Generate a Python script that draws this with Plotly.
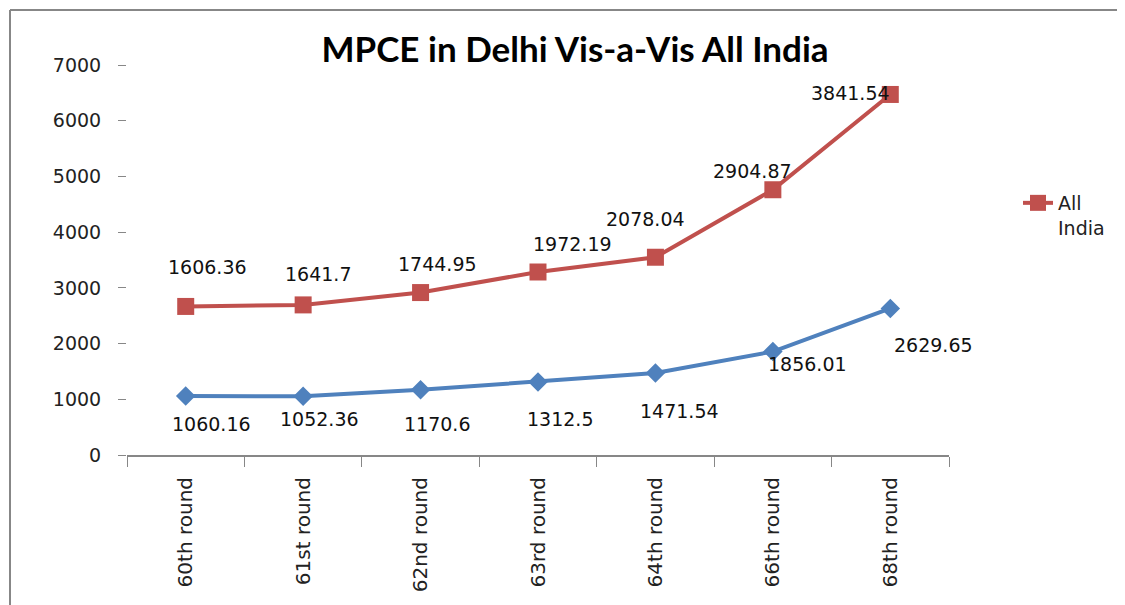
import plotly.graph_objects as go

# ---- data ----
rounds = ["60th round", "61st round", "62nd round", "63rd round",
          "64th round", "66th round", "68th round"]
delhi = [1060.16, 1052.36, 1170.6, 1312.5, 1471.54, 1856.01, 2629.65]
all_india = [1606.36, 1641.7, 1744.95, 1972.19, 2078.04, 2904.87, 3841.54]
y_ticks = [0, 1000, 2000, 3000, 4000, 5000, 6000, 7000]

# ---- label offsets (pixels), style only ----
delhi_off = [(26, -28), (16, -23), (16, -34), (22, -37), (24, -38), (35, -12), (43, -37)]
india_off = [(22, 39), (15, 31), (17, 29), (34, 28), (-10, 38), (-20, 19), (-40, 1)]

RED = "#C0504D"
BLUE = "#4F81BD"
FONT = "DejaVu Sans"

W, H = 1125, 605
OFF = 8  # page body margin
# plot area in page pixels
PL, PR, PT, PB = 127, 949, 65, 455
L, T = PL - OFF, PT - OFF
R = W - (PR - OFF)
B = H - (PB - OFF)

fig = go.Figure()
fig.add_trace(go.Scatter(
    x=rounds, y=delhi, name="Delhi", stackgroup="s", fill="none",
    mode="lines+markers", showlegend=False,
    line=dict(color=BLUE, width=4),
    marker=dict(symbol="diamond", size=15, color=BLUE),
))
fig.add_trace(go.Scatter(
    x=rounds, y=all_india, name="All<br>India", stackgroup="s", fill="none",
    mode="lines+markers",
    line=dict(color=RED, width=4),
    marker=dict(symbol="square", size=17, color=RED),
))

ann = []
for i, c in enumerate(rounds):
    dx, dy = delhi_off[i]
    ann.append(dict(x=c, y=delhi[i], xref="x", yref="y", text=f"{delhi[i]:g}",
                    showarrow=False, xshift=dx, yshift=dy,
                    font=dict(family=FONT, size=19, color="#111")))
    dx, dy = india_off[i]
    ann.append(dict(x=c, y=delhi[i] + all_india[i], xref="x", yref="y",
                    text=f"{all_india[i]:g}", showarrow=False, xshift=dx, yshift=dy,
                    font=dict(family=FONT, size=19, color="#111")))

pw, ph = PR - PL, PB - PT
def px(x):  # page pixel -> paper
    return (x - PL) / pw
def py(y):
    return (PB - y) / ph

shapes = [
    dict(type="line", xref="paper", yref="paper", x0=px(10), x1=px(10), y0=py(H + 20), y1=py(10),
         line=dict(color="#878787", width=2)),
    dict(type="line", xref="paper", yref="paper", x0=px(10), x1=px(W + 20), y0=py(10), y1=py(10),
         line=dict(color="#878787", width=2)),
]

fig.update_layout(
    width=W, height=H,
    margin=dict(l=L, r=R, t=T, b=B),
    paper_bgcolor="white", plot_bgcolor="white",
    title=dict(text="<b>MPCE in Delhi Vis-a-Vis All India</b>",
               xref="container", x=(575 - OFF) / W, xanchor="center",
               y=1 - (50 - OFF) / H, yanchor="middle",
               font=dict(family="Lato", size=35, color="black")),
    xaxis=dict(type="category", categoryorder="array", categoryarray=rounds,
               showline=True, linecolor="#878787", linewidth=2,
               ticks="outside", tickson="boundaries", ticklen=10, tickcolor="#878787",
               tickangle=-90, showgrid=False, zeroline=False, ticklabelstandoff=12,
               tickfont=dict(family=FONT, size=20, color="#222"),
               range=[-0.5, 6.5]),
    yaxis=dict(range=[0, 7000], tickvals=y_ticks, showgrid=False, zeroline=False,
               showline=False, ticks="outside", ticklen=8, tickcolor="#878787",
               ticklabelstandoff=13,
               tickfont=dict(family=FONT, size=19, color="#222")),
    legend=dict(x=px(1018), y=py(184), xanchor="left", yanchor="top",
                valign="top", font=dict(family=FONT, size=19, color="#222"),
                bgcolor="rgba(0,0,0,0)", itemwidth=30),
    annotations=ann,
    shapes=shapes,
)

fig.write_html("out.html")
